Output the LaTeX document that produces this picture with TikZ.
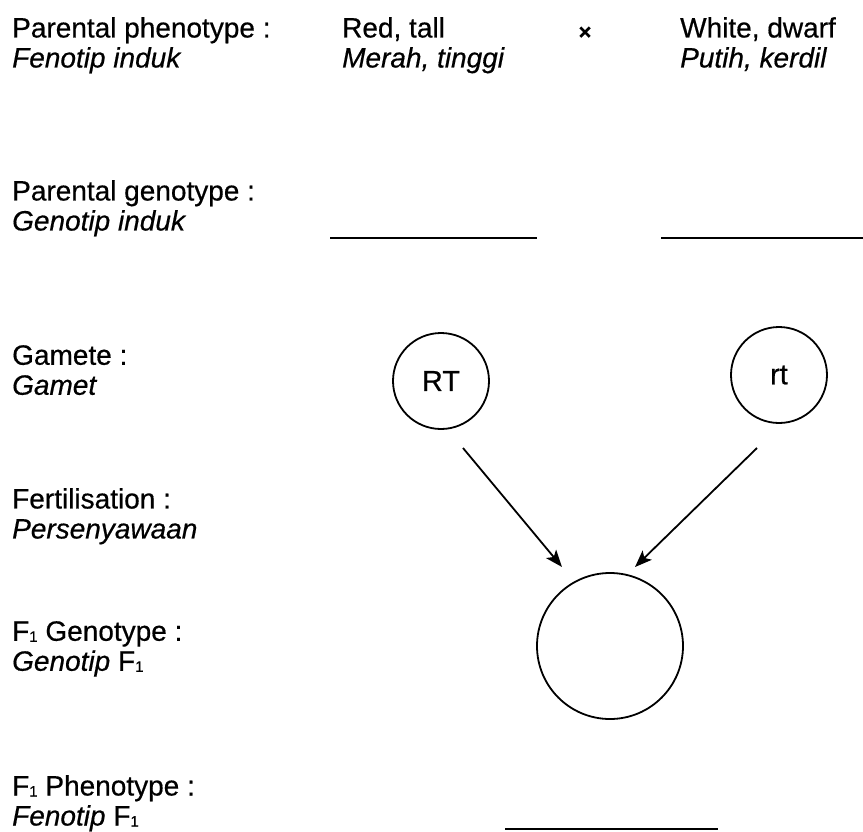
\documentclass[tikz,border=0pt]{standalone}
\usepackage{fontspec}
\setmainfont[FakeBold=0.5]{Liberation Sans}
\usetikzlibrary{arrows.meta}

\tikzset{
	lbl/.style={anchor=north west, inner sep=0pt, align=left, font=\fontsize{28}{30}\selectfont},
	gam/.style={draw, circle, line width=1.8pt, minimum size=96pt, inner sep=0pt, font=\fontsize{29}{29}\selectfont},
	arr/.style={line width=1.8pt, -{Stealth[length=17pt,width=13pt,inset=4pt]}},
	blank/.style={line width=2pt}
}
\newcommand{\one}{\raisebox{-1pt}{\fontsize{15}{15}\selectfont 1}}

\begin{document}
\begin{tikzpicture}[x=1pt,y=-1pt]

\useasboundingbox (0,0) rectangle (863,831);

% row titles
\node[lbl] (phen)  at (12,17)  {Parental phenotype :\\\textit{Fenotip induk}};
\node[lbl] (gen)   at (12,180) {Parental genotype :\\\textit{Genotip induk}};
\node[lbl] (gmt)   at (12,345) {Gamete :\\\textit{Gamet}};
\node[lbl] (fert)  at (12,488) {Fertilisation :\\\textit{Persenyawaan}};
\node[lbl] (fgen)  at (12,621) {F\one{} Genotype :\\\textit{Genotip} F\one};
\node[lbl] (fphen) at (12,775) {F\one{} Phenotype :\\\textit{Fenotip} F\one};

% parents
\node[lbl] (red)   at (342,17) {Red, tall\\\textit{Merah, tinggi}};
\node[lbl] (white) at (680,17) {White, dwarf\\\textit{Putih, kerdil}};
\node[font=\fontsize{22}{22}\bfseries, inner sep=0pt] (cross) at (585,33) {×};

% blanks
\draw[blank] (330,238) -- (537,238);
\draw[blank] (661,238) -- (863,238);
\draw[blank] (505,829) -- (718,829);

% gametes and zygote
\node[gam] (RT) at (441,381) {RT};
\node[gam] (rt) at (779,375) {rt};
\node[gam, minimum size=146pt] (zyg) at (610,646) {};

\coordinate (l0) at (463,448);
\coordinate (l1) at (562,567);
\coordinate (r0) at (757,448);
\coordinate (r1) at (635,567);
\draw[arr] (l0) -- (l1);
\draw[arr] (r0) -- (r1);

\end{tikzpicture}
\end{document}
